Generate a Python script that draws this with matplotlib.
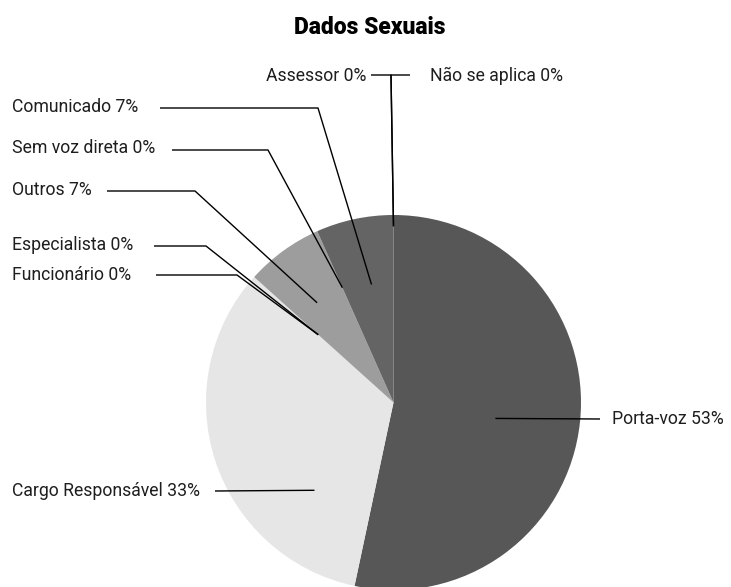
import numpy as np
import matplotlib.pyplot as plt

plt.rcParams["font.family"] = ["Roboto", "DejaVu Sans"]

categories = ["Porta-voz", "Cargo Responsável", "Funcionário", "Especialista",
              "Outros", "Sem voz direta", "Comunicado", "Assessor", "Não se aplica"]
counts = [8, 5, 0, 0, 1, 0, 1, 0, 0]
colors = ["#575757", "#e6e6e6", "#c8c8c8", "#b4b4b4",
          "#9d9d9d", "#808080", "#646464", "#5a5a5a", "#505050"]

# figure geometry in pixels
W, H = 731, 587
CX, CY, R = 393.5, 402.5, 187.5


def px(x, y):
    return ((x - CX) / R, (CY - y) / R)


# label layout: text anchor (px), text alignment, leader path (px), and where
# inside the slice the leader ends (fraction of the slice sweep, fraction of radius)
layout = {
    "Porta-voz":         dict(text=(612, 419), ha="left",  path=[(600, 419)], frac=0.515, rad=0.55),
    "Cargo Responsável": dict(text=(12, 491),  ha="left",  path=[(215, 491)], frac=0.25,  rad=0.63),
    "Funcionário":       dict(text=(12, 275),  ha="left",  path=[(156, 275), (237, 275)], frac=0.0, rad=0.54),
    "Especialista":      dict(text=(12, 245),  ha="left",  path=[(154, 246), (206, 246)], frac=0.0, rad=0.54),
    "Outros":            dict(text=(12, 190),  ha="left",  path=[(107, 191), (195, 191)], frac=0.44, rad=0.67),
    "Sem voz direta":    dict(text=(12, 148),  ha="left",  path=[(172, 150), (268, 150)], frac=0.0, rad=0.67),
    "Comunicado":        dict(text=(12, 107),  ha="left",  path=[(160, 108), (318, 108)], frac=0.56, rad=0.64),
    "Assessor":          dict(text=(366, 76),  ha="right", path=[(371, 75), (391, 75)], frac=0.0, rad=0.94),
    "Não se aplica":     dict(text=(430, 76),  ha="left",  path=[(410, 75), (391, 75)], frac=0.0, rad=0.94),
}

fig = plt.figure(figsize=(W / 100, H / 100), dpi=100)
ax = fig.add_axes([0, 0, 1, 1])

wedges, _ = ax.pie(counts, colors=colors, startangle=90, counterclock=False,
                   radius=1, wedgeprops=dict(linewidth=0))

ax.set_xlim(-CX / R, (W - CX) / R)
ax.set_ylim(-(H - CY) / R, CY / R)
ax.set_aspect("equal")
ax.axis("off")

total = sum(counts)
for name, value, wedge in zip(categories, counts, wedges):
    lay = layout[name]
    # clockwise pie: slice starts at theta2 and sweeps toward theta1
    ang = np.deg2rad(wedge.theta2 - lay["frac"] * (wedge.theta2 - wedge.theta1))
    anchor = (lay["rad"] * np.cos(ang), lay["rad"] * np.sin(ang))
    pts = [px(*p) for p in lay["path"]] + [anchor]
    xs, ys = zip(*pts)
    ax.plot(xs, ys, color="black", lw=1.0, solid_capstyle="butt")
    pct = round(100 * value / total)
    tx, ty = px(*lay["text"])
    ax.text(tx, ty, f"{name} {pct}%", ha=lay["ha"], va="center",
            fontsize=12.7, color="#1e1e1e")

tx, ty = px(370, 28)
ax.text(tx, ty, "Dados Sexuais", ha="center", va="center",
        fontsize=16.5, fontweight="heavy", color="black")

fig.savefig("out.png", dpi=100)
